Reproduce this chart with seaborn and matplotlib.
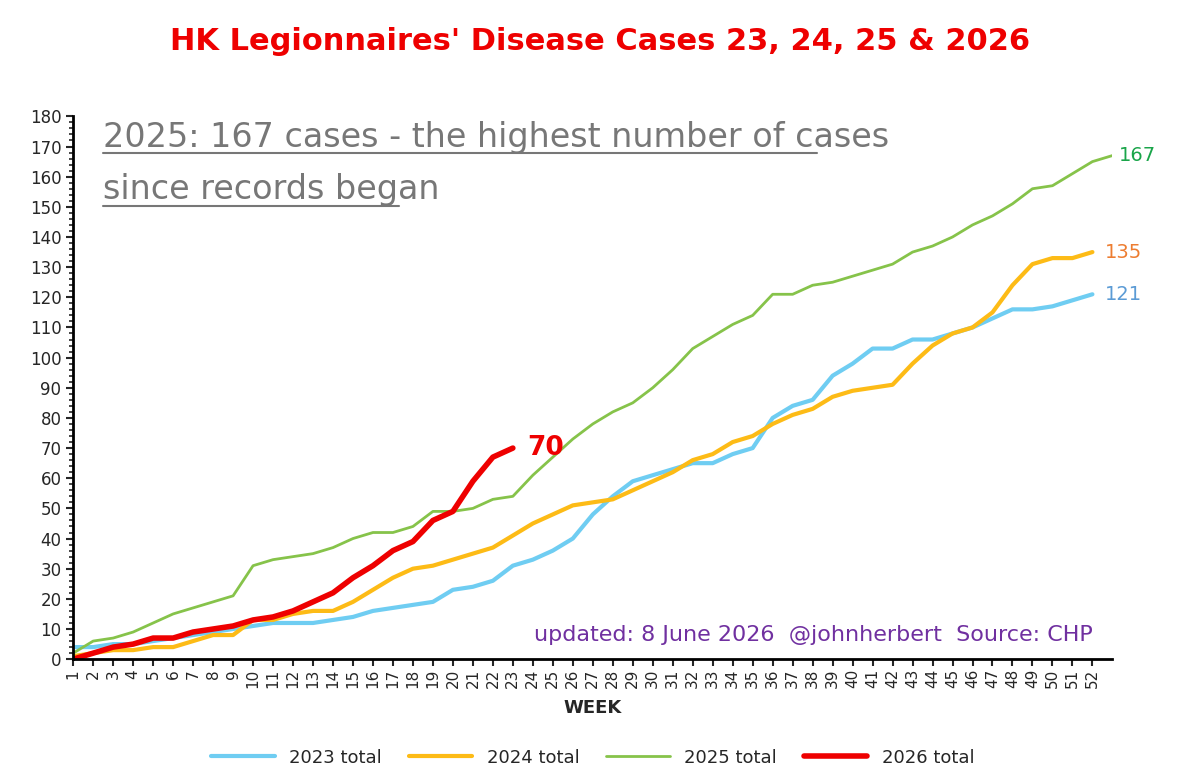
import numpy as np
import pandas as pd
import matplotlib
matplotlib.use('Agg')
import matplotlib.pyplot as plt
import seaborn as sns
from matplotlib.ticker import MultipleLocator

cases_2023 = [4, 4, 5, 5, 6, 7, 8, 9, 10, 11, 12, 12, 12, 13, 14, 16, 17, 18, 19, 23, 24, 26, 31, 33, 36, 40,
              48, 54, 59, 61, 63, 65, 65, 68, 70, 80, 84, 86, 94, 98, 103, 103, 106, 106, 108, 110, 113, 116,
              116, 117, 119, 121]
cases_2024 = [1, 2, 3, 3, 4, 4, 6, 8, 8, 13, 13, 15, 16, 16, 19, 23, 27, 30, 31, 33, 35, 37, 41, 45, 48, 51,
              52, 53, 56, 59, 62, 66, 68, 72, 74, 78, 81, 83, 87, 89, 90, 91, 98, 104, 108, 110, 115, 124,
              131, 133, 133, 135]
cases_2025 = [2, 6, 7, 9, 12, 15, 17, 19, 21, 31, 33, 34, 35, 37, 40, 42, 42, 44, 49, 49, 50, 53, 54, 61, 67,
              73, 78, 82, 85, 90, 96, 103, 107, 111, 114, 121, 121, 124, 125, 127, 129, 131, 135, 137, 140,
              144, 147, 151, 156, 157, 161, 165, 167]
cases_2026 = [0, 2, 4, 5, 7, 7, 9, 10, 11, 13, 14, 16, 19, 22, 27, 31, 36, 39, 46, 49, 59, 67, 70]

series = {'2023 total': cases_2023, '2024 total': cases_2024, '2025 total': cases_2025, '2026 total': cases_2026}
colors = {'2023 total': '#6fcdf2', '2024 total': '#fdbb16', '2025 total': '#86c34a', '2026 total': '#ee0000'}
widths = {'2023 total': 3, '2024 total': 3, '2025 total': 2, '2026 total': 4}

rows = []
for name, vals in series.items():
    for i, v in enumerate(vals):
        rows.append({'week': i + 1, 'cases': v, 'series': name})
df = pd.DataFrame(rows)

sns.set_style('white')
plt.rcParams['font.family'] = ['DejaVu Sans']

fig = plt.figure(figsize=(12, 7.81), dpi=100)
ax = fig.add_axes([0.061, 0.156, 0.866, 0.695])

for name in series:
    sub = df[df.series == name]
    sns.lineplot(data=sub, x='week', y='cases', ax=ax, color=colors[name], lw=widths[name], label=name)

ax.set_xlim(1, 53)
ax.set_ylim(0, 180)
ax.yaxis.set_major_locator(MultipleLocator(10))
ax.yaxis.set_minor_locator(MultipleLocator(2))
ax.set_xticks(range(1, 53))
ax.set_xticklabels([str(w) for w in range(1, 53)], rotation=90, fontsize=11)
ax.tick_params(axis='y', which='major', length=5, width=1.5, labelsize=12, direction='out', left=True)
ax.tick_params(axis='y', which='minor', length=3, width=1.2, left=True)
ax.tick_params(axis='x', length=5, width=1.5, bottom=True, pad=2)
for s in ['top', 'right']:
    ax.spines[s].set_visible(False)
for s in ['left', 'bottom']:
    ax.spines[s].set_linewidth(2)
    ax.spines[s].set_color('black')
ax.set_xlabel('WEEK', fontsize=13, fontweight='bold', labelpad=8)
ax.set_ylabel('')

ax.text(53.3, cases_2025[-1], str(cases_2025[-1]), color='#1aa54a', fontsize=14, va='center')
ax.text(52.6, cases_2024[-1], str(cases_2024[-1]), color='#ed7d31', fontsize=14, va='center')
ax.text(52.6, cases_2023[-1], str(cases_2023[-1]), color='#5b9bd5', fontsize=14, va='center')
ax.text(23.7, cases_2026[-1], str(cases_2026[-1]), color='#ee0000', fontsize=19, fontweight='bold', va='center')

grey = '#777777'
ax.text(2.5, 170, '2025: 167 cases - the highest number of cases', color=grey, fontsize=24, va='baseline')
ax.text(2.5, 152.5, 'since records began', color=grey, fontsize=24, va='baseline')
ax.plot([2.5, 38.2], [168, 168], color=grey, lw=1.5)
ax.plot([2.5, 17.3], [150.3, 150.3], color=grey, lw=1.5)

ax.text(52, 8, 'updated: 8 June 2026  @johnherbert  Source: CHP', color='#7030a0', fontsize=16,
        ha='right', va='center', fontweight='medium')

fig.suptitle("HK Legionnaires' Disease Cases 23, 24, 25 & 2026", color='#ee0000', fontsize=22,
             fontweight='bold', y=0.965)

ax.legend(loc='upper center', bbox_to_anchor=(0.5, -0.135), ncol=4, frameon=False, fontsize=13,
          handlelength=3.5, columnspacing=1.5)

fig.savefig('out.png', dpi=100)
